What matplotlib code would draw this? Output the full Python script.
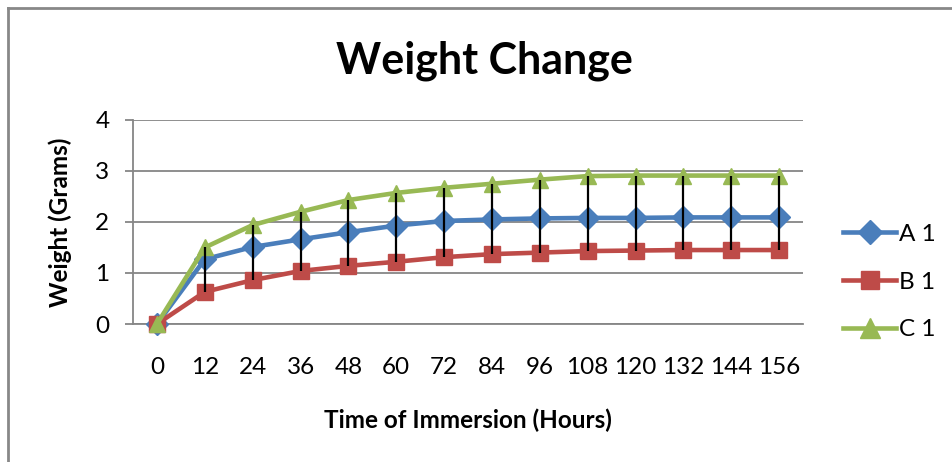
import matplotlib.pyplot as plt
import numpy as np

plt.rcParams['font.family'] = ['Lato', 'DejaVu Sans']

hours = [0, 12, 24, 36, 48, 60, 72, 84, 96, 108, 120, 132, 144, 156]
a1 = [0, 1.27, 1.51, 1.66, 1.80, 1.93, 2.02, 2.05, 2.07, 2.08, 2.08, 2.09, 2.09, 2.09]
b1 = [0, 0.63, 0.86, 1.04, 1.14, 1.22, 1.31, 1.37, 1.40, 1.43, 1.44, 1.45, 1.45, 1.45]
c1 = [0, 1.50, 1.94, 2.20, 2.43, 2.57, 2.67, 2.75, 2.83, 2.90, 2.91, 2.91, 2.91, 2.91]

series = [
	("A 1", a1, "#4A7EBB", "D", 11),
	("B 1", b1, "#BE4B48", "s", 11),
	("C 1", c1, "#98B954", "^", 12),
]

fig = plt.figure(figsize=(9.53, 4.62), dpi=100)
ax = fig.add_axes([0.1396, 0.2987, 0.7030, 0.4416])

x = np.arange(len(hours))
for name, vals, col, mk, ms in series:
	ax.plot(x, vals, color=col, lw=3.3, marker=mk, markersize=ms,
		markeredgecolor=col, label=name, zorder=3, clip_on=False)

# high-low lines
lo = np.minimum(np.minimum(a1, b1), c1)
hi = np.maximum(np.maximum(a1, b1), c1)
ax.vlines(x, lo, hi, color="black", lw=1.6, zorder=4)

ax.set_xlim(-0.5, len(hours) - 0.5)
ax.set_ylim(0, 4)
ax.set_yticks([0, 1, 2, 3, 4])
ax.set_xticks(x)
ax.set_xticklabels([str(h) for h in hours])
ax.yaxis.grid(True, color="#868686", lw=1.3)
ax.set_axisbelow(True)
for s in ["top", "right"]:
	ax.spines[s].set_visible(False)
for s in ["left", "bottom"]:
	ax.spines[s].set_color("#868686")
	ax.spines[s].set_linewidth(1.3)
ax.tick_params(axis="y", length=6, width=1.3, color="#868686", labelsize=17.5, pad=11)
ax.tick_params(axis="x", length=0, labelsize=17.5, pad=24)

ax.set_xlabel("Time of Immersion (Hours)", fontsize=17.5, fontweight="bold", labelpad=22)
ax.set_ylabel("Weight (Grams)", fontsize=17.5, fontweight="bold", labelpad=17)
fig.text(0.508, 0.868, "Weight Change", ha="center", va="center",
	fontsize=31, fontweight="bold")

ax.legend(loc="center left", bbox_to_anchor=(1.034, 0.205), frameon=False,
	fontsize=17.5, handlelength=2.2, labelspacing=1.1, handletextpad=0.1,
	borderaxespad=0.3, markerscale=1.15)

# outer chart border (left and top)
fig.add_artist(plt.Line2D([0.0085, 0.0085], [0, 0.983], color="#888888", lw=2, transform=fig.transFigure))
fig.add_artist(plt.Line2D([0.0085, 1], [0.983, 0.983], color="#888888", lw=2, transform=fig.transFigure))

fig.savefig("out.png", dpi=100)
